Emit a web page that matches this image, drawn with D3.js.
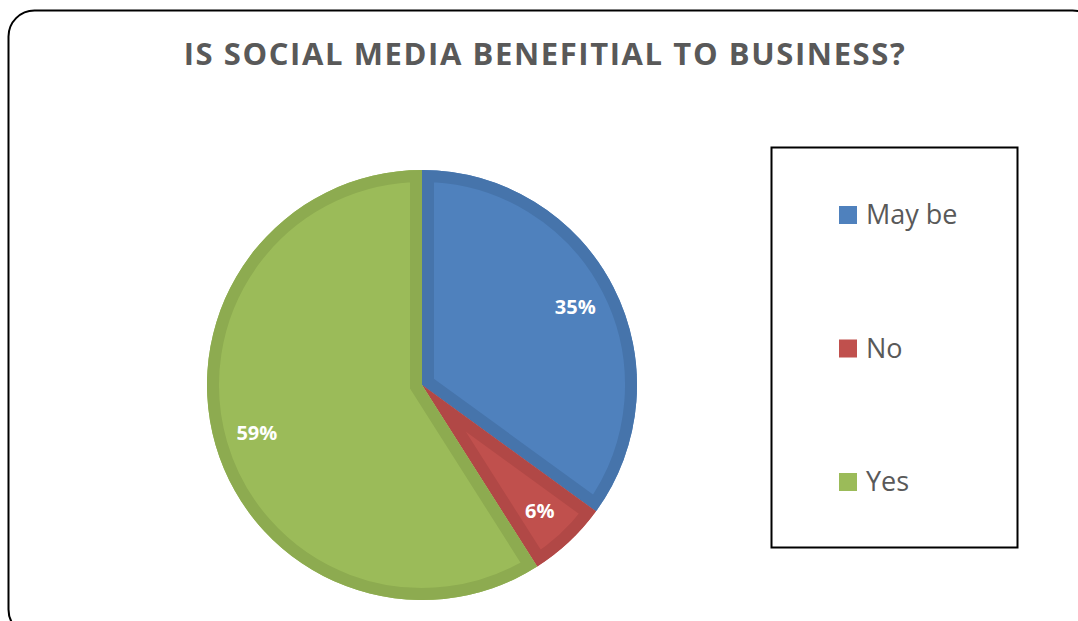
<!DOCTYPE html>
<html>
<head>
<meta charset="utf-8">
<script src="https://cdn.jsdelivr.net/npm/d3@7"></script>
<style>
  html, body { margin: 0; padding: 0; background: #fff; }
  svg { display: block; }
</style>
</head>
<body>
<svg id="chart" width="1078" height="621"></svg>
<script>
// Survey answers and their share of responses (percent)
const categories = ["May be", "No", "Yes"];
const values = [35, 6, 59];
const fills = ["#4F81BD", "#C0504D", "#9BBB59"];
const edges = ["#4674AB", "#B14846", "#8DAB50"];
const titleText = "IS SOCIAL MEDIA BENEFITIAL TO BUSINESS?";

const svg = d3.select("#chart");

// Chart area frame with rounded corners
svg.append("rect")
  .attr("x", 8.5).attr("y", 10.5)
  .attr("width", 1090).attr("height", 625)
  .attr("rx", 26).attr("ry", 26)
  .attr("fill", "#fff")
  .attr("stroke", "#000")
  .attr("stroke-width", 2);

// Title
svg.append("text")
  .attr("x", 545).attr("y", 65)
  .attr("text-anchor", "middle")
  .attr("font-family", "'Open Sans', sans-serif")
  .attr("font-weight", "bold")
  .attr("font-size", 31)
  .attr("letter-spacing", 1.6)
  .attr("fill", "#595959")
  .text(titleText);

// Pie
const cx = 422, cy = 385, R = 215;
const pie = d3.pie().sort(null).value(d => d.value);
const data = pie(categories.map((c, i) => ({ name: c, value: values[i], i })));
const arc = d3.arc().innerRadius(0).outerRadius(R);
const labelArc = d3.arc().innerRadius(R * 0.8).outerRadius(R * 0.8);

const g = svg.append("g").attr("transform", `translate(${cx},${cy})`);
const defs = svg.append("defs");

data.forEach((d, k) => {
  const id = "slice-clip-" + k;
  defs.append("clipPath").attr("id", id)
    .append("path").attr("d", arc(d));
  g.append("path")
    .attr("d", arc(d))
    .attr("fill", fills[d.data.i]);
  // inner border band drawn only inside the slice
  g.append("path")
    .attr("d", arc(d))
    .attr("fill", "none")
    .attr("stroke", edges[d.data.i])
    .attr("stroke-width", 24)
    .attr("stroke-linejoin", "miter")
    .attr("clip-path", `url(#${id})`);
});

// Percentage labels
g.selectAll("text.pct")
  .data(data)
  .join("text")
  .attr("class", "pct")
  .attr("transform", d => `translate(${labelArc.centroid(d)})`)
  .attr("text-anchor", "middle")
  .attr("dy", "0.36em")
  .attr("font-family", "'Open Sans', sans-serif")
  .attr("font-weight", "bold")
  .attr("font-size", 20)
  .attr("fill", "#fff")
  .text(d => d.data.value + "%");

// Legend
const legend = svg.append("g");
legend.append("rect")
  .attr("x", 771.5).attr("y", 147.5)
  .attr("width", 246).attr("height", 400)
  .attr("fill", "#fff")
  .attr("stroke", "#000")
  .attr("stroke-width", 2);

const legendY = d3.scalePoint().domain(categories).range([215, 482]);
const items = legend.selectAll("g.item")
  .data(categories)
  .join("g")
  .attr("class", "item")
  .attr("transform", d => `translate(839,${legendY(d)})`);
items.append("rect")
  .attr("x", 0).attr("y", -9)
  .attr("width", 18).attr("height", 18)
  .attr("fill", (d, i) => fills[i]);
items.append("text")
  .attr("x", 27).attr("y", 0)
  .attr("dy", "0.35em")
  .attr("font-family", "'Open Sans', sans-serif")
  .attr("font-size", 27)
  .attr("fill", "#595959")
  .text(d => d);
</script>
</body>
</html>
